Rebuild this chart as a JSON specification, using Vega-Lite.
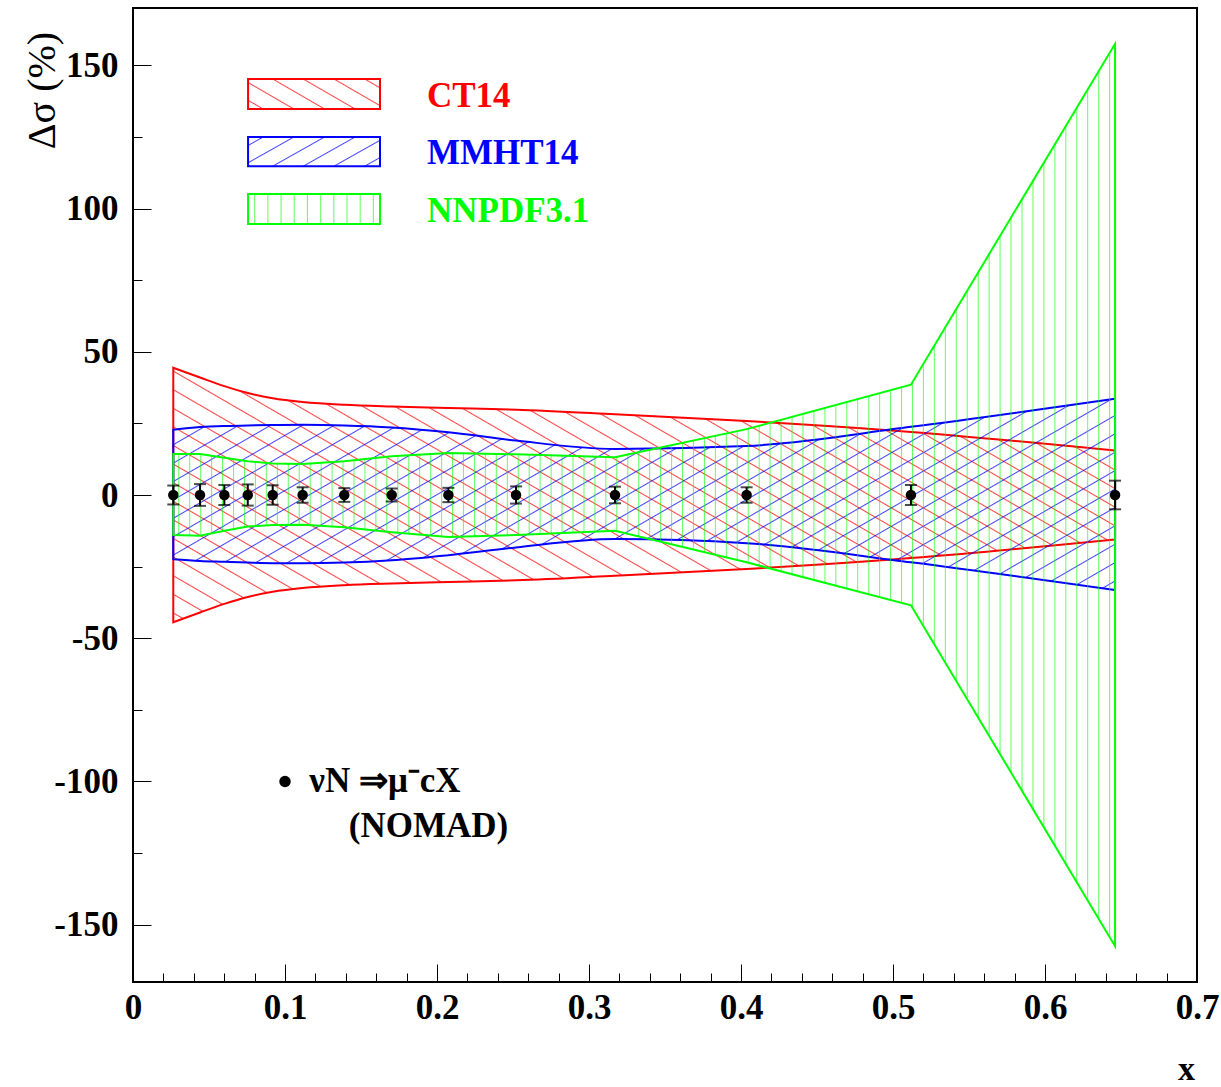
{
"$schema": "https://vega.github.io/schema/vega-lite/v6.json",
"width": 1064, "height": 974,
"autosize": {"type": "none"},
"padding": {"left": 133, "top": 8, "right": 24, "bottom": 105},
"background": "white",
"config": {"view": {"stroke": "black", "strokeWidth": 2}, "font": "Liberation Serif"},
"datasets": {
"bands": [
{"x":0.0265,"ct_hi":44.4,"ct_lo":-44.4,"mm_hi":22.8,"mm_lo":-22.4,"nn_hi":14.3,"nn_lo":-14.0},
{"x":0.0441,"ct_hi":41.0,"ct_lo":-41.0,"mm_hi":23.7,"mm_lo":-23.0,"nn_hi":14.3,"nn_lo":-14.2},
{"x":0.0601,"ct_hi":38.0,"ct_lo":-38.0,"mm_hi":24.1,"mm_lo":-23.3,"nn_hi":13.0,"nn_lo":-12.5},
{"x":0.0755,"ct_hi":35.6,"ct_lo":-35.6,"mm_hi":24.3,"mm_lo":-23.6,"nn_hi":11.8,"nn_lo":-11.0},
{"x":0.0919,"ct_hi":33.8,"ct_lo":-33.8,"mm_hi":24.4,"mm_lo":-23.8,"nn_hi":11.0,"nn_lo":-10.5},
{"x":0.1116,"ct_hi":32.5,"ct_lo":-32.5,"mm_hi":24.5,"mm_lo":-23.8,"nn_hi":10.8,"nn_lo":-10.4},
{"x":0.1390,"ct_hi":31.5,"ct_lo":-31.5,"mm_hi":24.3,"mm_lo":-23.6,"nn_hi":11.8,"nn_lo":-11.3},
{"x":0.1702,"ct_hi":30.9,"ct_lo":-30.9,"mm_hi":23.6,"mm_lo":-22.8,"nn_hi":13.5,"nn_lo":-13.0},
{"x":0.2075,"ct_hi":30.4,"ct_lo":-30.4,"mm_hi":21.9,"mm_lo":-21.0,"nn_hi":14.7,"nn_lo":-14.7},
{"x":0.2520,"ct_hi":29.8,"ct_lo":-29.8,"mm_hi":19.0,"mm_lo":-18.3,"nn_hi":14.2,"nn_lo":-14.0},
{"x":0.3171,"ct_hi":28.2,"ct_lo":-28.2,"mm_hi":16.1,"mm_lo":-15.4,"nn_hi":13.2,"nn_lo":-12.5},
{"x":0.4037,"ct_hi":25.8,"ct_lo":-25.8,"mm_hi":17.1,"mm_lo":-16.8,"nn_hi":23.0,"nn_lo":-23.5},
{"x":0.5118,"ct_hi":22.0,"ct_lo":-22.0,"mm_hi":23.8,"mm_lo":-23.5,"nn_hi":38.5,"nn_lo":-38.5},
{"x":0.6461,"ct_hi":15.5,"ct_lo":-15.5,"mm_hi":33.6,"mm_lo":-33.2,"nn_hi":157.5,"nn_lo":-157.5}
],
"nomad": [
{"x":0.0265,"v":0,"err":3.3},
{"x":0.0441,"v":0,"err":3.8},
{"x":0.0601,"v":0,"err":3.5},
{"x":0.0755,"v":0,"err":3.7},
{"x":0.0919,"v":0,"err":3.4},
{"x":0.1116,"v":0,"err":2.7},
{"x":0.1390,"v":0,"err":2.4},
{"x":0.1702,"v":0,"err":2.3},
{"x":0.2075,"v":0,"err":2.5},
{"x":0.2520,"v":0,"err":3.0},
{"x":0.3171,"v":0,"err":2.9},
{"x":0.4037,"v":0,"err":2.7},
{"x":0.5118,"v":0,"err":3.5},
{"x":0.6461,"v":0,"err":5.0}
]
},
"layer": [
{
"data": {"name": "bands"},
"mark": {"type": "area", "interpolate": "monotone", "stroke": "#ff0000", "strokeWidth": 2,
"fill": {"gradient": "linear", "x1": 0, "y1": 1, "x2": 1.2045, "y2": 0.4381, "stops": [
{"offset":0.0101,"color":"#f000"},{"offset":0.0116,"color":"#f00b"},{"offset":0.0131,"color":"#f000"},
{"offset":0.0334,"color":"#f000"},{"offset":0.0349,"color":"#f00b"},{"offset":0.0364,"color":"#f000"},
{"offset":0.0566,"color":"#f000"},{"offset":0.0581,"color":"#f00b"},{"offset":0.0596,"color":"#f000"},
{"offset":0.0799,"color":"#f000"},{"offset":0.0814,"color":"#f00b"},{"offset":0.0829,"color":"#f000"},
{"offset":0.1032,"color":"#f000"},{"offset":0.1047,"color":"#f00b"},{"offset":0.1062,"color":"#f000"},
{"offset":0.1264,"color":"#f000"},{"offset":0.1279,"color":"#f00b"},{"offset":0.1294,"color":"#f000"},
{"offset":0.1497,"color":"#f000"},{"offset":0.1512,"color":"#f00b"},{"offset":0.1527,"color":"#f000"},
{"offset":0.1729,"color":"#f000"},{"offset":0.1744,"color":"#f00b"},{"offset":0.1759,"color":"#f000"},
{"offset":0.1962,"color":"#f000"},{"offset":0.1977,"color":"#f00b"},{"offset":0.1992,"color":"#f000"},
{"offset":0.2194,"color":"#f000"},{"offset":0.2209,"color":"#f00b"},{"offset":0.2224,"color":"#f000"},
{"offset":0.2427,"color":"#f000"},{"offset":0.2442,"color":"#f00b"},{"offset":0.2457,"color":"#f000"},
{"offset":0.2659,"color":"#f000"},{"offset":0.2674,"color":"#f00b"},{"offset":0.2689,"color":"#f000"},
{"offset":0.2892,"color":"#f000"},{"offset":0.2907,"color":"#f00b"},{"offset":0.2922,"color":"#f000"},
{"offset":0.3125,"color":"#f000"},{"offset":0.3140,"color":"#f00b"},{"offset":0.3155,"color":"#f000"},
{"offset":0.3357,"color":"#f000"},{"offset":0.3372,"color":"#f00b"},{"offset":0.3387,"color":"#f000"},
{"offset":0.3590,"color":"#f000"},{"offset":0.3605,"color":"#f00b"},{"offset":0.3620,"color":"#f000"},
{"offset":0.3822,"color":"#f000"},{"offset":0.3837,"color":"#f00b"},{"offset":0.3852,"color":"#f000"},
{"offset":0.4055,"color":"#f000"},{"offset":0.4070,"color":"#f00b"},{"offset":0.4085,"color":"#f000"},
{"offset":0.4287,"color":"#f000"},{"offset":0.4302,"color":"#f00b"},{"offset":0.4317,"color":"#f000"},
{"offset":0.4520,"color":"#f000"},{"offset":0.4535,"color":"#f00b"},{"offset":0.4550,"color":"#f000"},
{"offset":0.4752,"color":"#f000"},{"offset":0.4767,"color":"#f00b"},{"offset":0.4782,"color":"#f000"},
{"offset":0.4985,"color":"#f000"},{"offset":0.5000,"color":"#f00b"},{"offset":0.5015,"color":"#f000"},
{"offset":0.5218,"color":"#f000"},{"offset":0.5233,"color":"#f00b"},{"offset":0.5248,"color":"#f000"},
{"offset":0.5450,"color":"#f000"},{"offset":0.5465,"color":"#f00b"},{"offset":0.5480,"color":"#f000"},
{"offset":0.5683,"color":"#f000"},{"offset":0.5698,"color":"#f00b"},{"offset":0.5713,"color":"#f000"},
{"offset":0.5915,"color":"#f000"},{"offset":0.5930,"color":"#f00b"},{"offset":0.5945,"color":"#f000"},
{"offset":0.6148,"color":"#f000"},{"offset":0.6163,"color":"#f00b"},{"offset":0.6178,"color":"#f000"},
{"offset":0.6380,"color":"#f000"},{"offset":0.6395,"color":"#f00b"},{"offset":0.6410,"color":"#f000"},
{"offset":0.6613,"color":"#f000"},{"offset":0.6628,"color":"#f00b"},{"offset":0.6643,"color":"#f000"},
{"offset":0.6845,"color":"#f000"},{"offset":0.6860,"color":"#f00b"},{"offset":0.6875,"color":"#f000"},
{"offset":0.7078,"color":"#f000"},{"offset":0.7093,"color":"#f00b"},{"offset":0.7108,"color":"#f000"},
{"offset":0.7311,"color":"#f000"},{"offset":0.7326,"color":"#f00b"},{"offset":0.7341,"color":"#f000"},
{"offset":0.7543,"color":"#f000"},{"offset":0.7558,"color":"#f00b"},{"offset":0.7573,"color":"#f000"},
{"offset":0.7776,"color":"#f000"},{"offset":0.7791,"color":"#f00b"},{"offset":0.7806,"color":"#f000"},
{"offset":0.8008,"color":"#f000"},{"offset":0.8023,"color":"#f00b"},{"offset":0.8038,"color":"#f000"},
{"offset":0.8241,"color":"#f000"},{"offset":0.8256,"color":"#f00b"},{"offset":0.8271,"color":"#f000"},
{"offset":0.8473,"color":"#f000"},{"offset":0.8488,"color":"#f00b"},{"offset":0.8503,"color":"#f000"},
{"offset":0.8706,"color":"#f000"},{"offset":0.8721,"color":"#f00b"},{"offset":0.8736,"color":"#f000"},
{"offset":0.8938,"color":"#f000"},{"offset":0.8953,"color":"#f00b"},{"offset":0.8968,"color":"#f000"},
{"offset":0.9171,"color":"#f000"},{"offset":0.9186,"color":"#f00b"},{"offset":0.9201,"color":"#f000"},
{"offset":0.9404,"color":"#f000"},{"offset":0.9419,"color":"#f00b"},{"offset":0.9434,"color":"#f000"},
{"offset":0.9636,"color":"#f000"},{"offset":0.9651,"color":"#f00b"},{"offset":0.9666,"color":"#f000"},
{"offset":0.9869,"color":"#f000"},{"offset":0.9884,"color":"#f00b"},{"offset":0.9899,"color":"#f000"}
]}},
"encoding": {
"x": {"field": "x", "type": "quantitative", "title": "x", "scale": {"domain": [0, 0.7], "nice": false, "zero": false},
"axis": {"values": [0,0.02,0.04,0.06,0.08,0.1,0.12,0.14,0.16,0.18,0.2,0.22,0.24,0.26,0.28,0.3,0.32,0.34,0.36,0.38,0.4,0.42,0.44,0.46,0.48,0.5,0.52,0.54,0.56,0.58,0.6,0.62,0.64,0.66,0.68,0.7],
"tickCount": 100,
"title": "x", "domain": false, "ticks": false, "tickSize": 0,
"grid": true, "gridColor": "black", "gridWidth": 1, "gridOpacity": 1,
"gridDash": {"condition": {"test": "abs(datum.value * 10 - round(datum.value * 10)) < 0.001", "value": [18, 956]}, "value": [0, 9, 9, 956]},
"gridDashOffset": 18,
"labelExpr": "abs(datum.value * 10 - round(datum.value * 10)) < 0.001 ? format(datum.value, '.1~f') : ''",
"labelPadding": 8, "labelFont": "Liberation Serif", "labelFontWeight": "bold", "labelFontSize": 35, "labelColor": "black",
"labelOverlap": false, "labelFlush": false, "labelBound": false,
"titleFont": "Liberation Serif", "titleFontWeight": "bold", "titleFontSize": 34, "titleColor": "black",
"titleX": 1053, "titleY": 104, "titleAlign": "center", "titleBaseline": "bottom"}},
"y": {"field": "ct_lo", "type": "quantitative", "title": "Δσ (%)", "scale": {"domain": [-170, 170], "nice": false, "zero": false},
"axis": {"values": [-150,-125,-100,-75,-50,-25,0,25,50,75,100,125,150],
"tickCount": 100,
"title": "Δσ (%)", "domain": false, "ticks": false, "tickSize": 0,
"grid": true, "gridColor": "black", "gridWidth": 1, "gridOpacity": 1,
"gridDash": {"condition": {"test": "datum.value % 50 == 0", "value": [18, 1046]}, "value": [9, 1055]},
"labelExpr": "datum.value % 50 == 0 ? toString(datum.value) : ''",
"labelPadding": 15, "labelFont": "Liberation Serif", "labelFontWeight": "bold", "labelFontSize": 35, "labelColor": "black",
"labelOverlap": false, "labelFlush": false, "labelBound": false,
"titleFont": "Liberation Serif", "titleFontWeight": "normal", "titleFontSize": 40, "titleColor": "black",
"titleAngle": -90, "titleX": -91, "titleY": 82, "titleAlign": "center", "titleBaseline": "middle"}},
"y2": {"field": "ct_hi"}
}
},
{
"data": {"name": "bands"},
"mark": {"type": "area", "interpolate": "monotone", "stroke": "#0000ff", "strokeWidth": 2,
"fill": {"gradient": "linear", "x1": 0, "y1": 0, "x2": 1.203, "y2": 0.4229, "stops": [
{"offset":0.0109,"color":"#00f0"},{"offset":0.0125,"color":"#00fb"},{"offset":0.0141,"color":"#00f0"},
{"offset":0.0359,"color":"#00f0"},{"offset":0.0375,"color":"#00fb"},{"offset":0.0391,"color":"#00f0"},
{"offset":0.0609,"color":"#00f0"},{"offset":0.0625,"color":"#00fb"},{"offset":0.0641,"color":"#00f0"},
{"offset":0.0859,"color":"#00f0"},{"offset":0.0875,"color":"#00fb"},{"offset":0.0891,"color":"#00f0"},
{"offset":0.1109,"color":"#00f0"},{"offset":0.1125,"color":"#00fb"},{"offset":0.1141,"color":"#00f0"},
{"offset":0.1359,"color":"#00f0"},{"offset":0.1375,"color":"#00fb"},{"offset":0.1391,"color":"#00f0"},
{"offset":0.1609,"color":"#00f0"},{"offset":0.1625,"color":"#00fb"},{"offset":0.1641,"color":"#00f0"},
{"offset":0.1859,"color":"#00f0"},{"offset":0.1875,"color":"#00fb"},{"offset":0.1891,"color":"#00f0"},
{"offset":0.2109,"color":"#00f0"},{"offset":0.2125,"color":"#00fb"},{"offset":0.2141,"color":"#00f0"},
{"offset":0.2359,"color":"#00f0"},{"offset":0.2375,"color":"#00fb"},{"offset":0.2391,"color":"#00f0"},
{"offset":0.2609,"color":"#00f0"},{"offset":0.2625,"color":"#00fb"},{"offset":0.2641,"color":"#00f0"},
{"offset":0.2859,"color":"#00f0"},{"offset":0.2875,"color":"#00fb"},{"offset":0.2891,"color":"#00f0"},
{"offset":0.3109,"color":"#00f0"},{"offset":0.3125,"color":"#00fb"},{"offset":0.3141,"color":"#00f0"},
{"offset":0.3359,"color":"#00f0"},{"offset":0.3375,"color":"#00fb"},{"offset":0.3391,"color":"#00f0"},
{"offset":0.3609,"color":"#00f0"},{"offset":0.3625,"color":"#00fb"},{"offset":0.3641,"color":"#00f0"},
{"offset":0.3859,"color":"#00f0"},{"offset":0.3875,"color":"#00fb"},{"offset":0.3891,"color":"#00f0"},
{"offset":0.4109,"color":"#00f0"},{"offset":0.4125,"color":"#00fb"},{"offset":0.4141,"color":"#00f0"},
{"offset":0.4359,"color":"#00f0"},{"offset":0.4375,"color":"#00fb"},{"offset":0.4391,"color":"#00f0"},
{"offset":0.4609,"color":"#00f0"},{"offset":0.4625,"color":"#00fb"},{"offset":0.4641,"color":"#00f0"},
{"offset":0.4859,"color":"#00f0"},{"offset":0.4875,"color":"#00fb"},{"offset":0.4891,"color":"#00f0"},
{"offset":0.5109,"color":"#00f0"},{"offset":0.5125,"color":"#00fb"},{"offset":0.5141,"color":"#00f0"},
{"offset":0.5359,"color":"#00f0"},{"offset":0.5375,"color":"#00fb"},{"offset":0.5391,"color":"#00f0"},
{"offset":0.5609,"color":"#00f0"},{"offset":0.5625,"color":"#00fb"},{"offset":0.5641,"color":"#00f0"},
{"offset":0.5859,"color":"#00f0"},{"offset":0.5875,"color":"#00fb"},{"offset":0.5891,"color":"#00f0"},
{"offset":0.6109,"color":"#00f0"},{"offset":0.6125,"color":"#00fb"},{"offset":0.6141,"color":"#00f0"},
{"offset":0.6359,"color":"#00f0"},{"offset":0.6375,"color":"#00fb"},{"offset":0.6391,"color":"#00f0"},
{"offset":0.6609,"color":"#00f0"},{"offset":0.6625,"color":"#00fb"},{"offset":0.6641,"color":"#00f0"},
{"offset":0.6859,"color":"#00f0"},{"offset":0.6875,"color":"#00fb"},{"offset":0.6891,"color":"#00f0"},
{"offset":0.7109,"color":"#00f0"},{"offset":0.7125,"color":"#00fb"},{"offset":0.7141,"color":"#00f0"},
{"offset":0.7359,"color":"#00f0"},{"offset":0.7375,"color":"#00fb"},{"offset":0.7391,"color":"#00f0"},
{"offset":0.7609,"color":"#00f0"},{"offset":0.7625,"color":"#00fb"},{"offset":0.7641,"color":"#00f0"},
{"offset":0.7859,"color":"#00f0"},{"offset":0.7875,"color":"#00fb"},{"offset":0.7891,"color":"#00f0"},
{"offset":0.8109,"color":"#00f0"},{"offset":0.8125,"color":"#00fb"},{"offset":0.8141,"color":"#00f0"},
{"offset":0.8359,"color":"#00f0"},{"offset":0.8375,"color":"#00fb"},{"offset":0.8391,"color":"#00f0"},
{"offset":0.8609,"color":"#00f0"},{"offset":0.8625,"color":"#00fb"},{"offset":0.8641,"color":"#00f0"},
{"offset":0.8859,"color":"#00f0"},{"offset":0.8875,"color":"#00fb"},{"offset":0.8891,"color":"#00f0"},
{"offset":0.9109,"color":"#00f0"},{"offset":0.9125,"color":"#00fb"},{"offset":0.9141,"color":"#00f0"},
{"offset":0.9359,"color":"#00f0"},{"offset":0.9375,"color":"#00fb"},{"offset":0.9391,"color":"#00f0"},
{"offset":0.9609,"color":"#00f0"},{"offset":0.9625,"color":"#00fb"},{"offset":0.9641,"color":"#00f0"},
{"offset":0.9859,"color":"#00f0"},{"offset":0.9875,"color":"#00fb"},{"offset":0.9891,"color":"#00f0"}
]}},
"encoding": {
"x": {"field": "x", "type": "quantitative", "title": "x", "scale": {"domain": [0, 0.7], "nice": false, "zero": false}},
"y": {"field": "mm_lo", "type": "quantitative", "title": "Δσ (%)", "scale": {"domain": [-170, 170], "nice": false, "zero": false}},
"y2": {"field": "mm_hi"}
}
},
{
"data": {"name": "bands"},
"mark": {"type": "area", "interpolate": "linear", "stroke": "#00ff00", "strokeWidth": 2,
"fill": {"gradient": "linear", "x1": 0, "y1": 0, "x2": 1, "y2": 0, "stops": [
{"offset":0.0047,"color":"#0f00"},{"offset":0.0058,"color":"#0f09"},{"offset":0.0069,"color":"#0f00"},
{"offset":0.0163,"color":"#0f00"},{"offset":0.0174,"color":"#0f09"},{"offset":0.0185,"color":"#0f00"},
{"offset":0.0280,"color":"#0f00"},{"offset":0.0291,"color":"#0f09"},{"offset":0.0302,"color":"#0f00"},
{"offset":0.0396,"color":"#0f00"},{"offset":0.0407,"color":"#0f09"},{"offset":0.0418,"color":"#0f00"},
{"offset":0.0512,"color":"#0f00"},{"offset":0.0523,"color":"#0f09"},{"offset":0.0534,"color":"#0f00"},
{"offset":0.0629,"color":"#0f00"},{"offset":0.0640,"color":"#0f09"},{"offset":0.0651,"color":"#0f00"},
{"offset":0.0745,"color":"#0f00"},{"offset":0.0756,"color":"#0f09"},{"offset":0.0767,"color":"#0f00"},
{"offset":0.0861,"color":"#0f00"},{"offset":0.0872,"color":"#0f09"},{"offset":0.0883,"color":"#0f00"},
{"offset":0.0977,"color":"#0f00"},{"offset":0.0988,"color":"#0f09"},{"offset":0.0999,"color":"#0f00"},
{"offset":0.1094,"color":"#0f00"},{"offset":0.1105,"color":"#0f09"},{"offset":0.1116,"color":"#0f00"},
{"offset":0.1210,"color":"#0f00"},{"offset":0.1221,"color":"#0f09"},{"offset":0.1232,"color":"#0f00"},
{"offset":0.1326,"color":"#0f00"},{"offset":0.1337,"color":"#0f09"},{"offset":0.1348,"color":"#0f00"},
{"offset":0.1443,"color":"#0f00"},{"offset":0.1454,"color":"#0f09"},{"offset":0.1465,"color":"#0f00"},
{"offset":0.1559,"color":"#0f00"},{"offset":0.1570,"color":"#0f09"},{"offset":0.1581,"color":"#0f00"},
{"offset":0.1675,"color":"#0f00"},{"offset":0.1686,"color":"#0f09"},{"offset":0.1697,"color":"#0f00"},
{"offset":0.1791,"color":"#0f00"},{"offset":0.1802,"color":"#0f09"},{"offset":0.1813,"color":"#0f00"},
{"offset":0.1908,"color":"#0f00"},{"offset":0.1919,"color":"#0f09"},{"offset":0.1930,"color":"#0f00"},
{"offset":0.2024,"color":"#0f00"},{"offset":0.2035,"color":"#0f09"},{"offset":0.2046,"color":"#0f00"},
{"offset":0.2140,"color":"#0f00"},{"offset":0.2151,"color":"#0f09"},{"offset":0.2162,"color":"#0f00"},
{"offset":0.2256,"color":"#0f00"},{"offset":0.2267,"color":"#0f09"},{"offset":0.2278,"color":"#0f00"},
{"offset":0.2373,"color":"#0f00"},{"offset":0.2384,"color":"#0f09"},{"offset":0.2395,"color":"#0f00"},
{"offset":0.2489,"color":"#0f00"},{"offset":0.2500,"color":"#0f09"},{"offset":0.2511,"color":"#0f00"},
{"offset":0.2605,"color":"#0f00"},{"offset":0.2616,"color":"#0f09"},{"offset":0.2627,"color":"#0f00"},
{"offset":0.2722,"color":"#0f00"},{"offset":0.2733,"color":"#0f09"},{"offset":0.2744,"color":"#0f00"},
{"offset":0.2838,"color":"#0f00"},{"offset":0.2849,"color":"#0f09"},{"offset":0.2860,"color":"#0f00"},
{"offset":0.2954,"color":"#0f00"},{"offset":0.2965,"color":"#0f09"},{"offset":0.2976,"color":"#0f00"},
{"offset":0.3070,"color":"#0f00"},{"offset":0.3081,"color":"#0f09"},{"offset":0.3092,"color":"#0f00"},
{"offset":0.3187,"color":"#0f00"},{"offset":0.3198,"color":"#0f09"},{"offset":0.3209,"color":"#0f00"},
{"offset":0.3303,"color":"#0f00"},{"offset":0.3314,"color":"#0f09"},{"offset":0.3325,"color":"#0f00"},
{"offset":0.3419,"color":"#0f00"},{"offset":0.3430,"color":"#0f09"},{"offset":0.3441,"color":"#0f00"},
{"offset":0.3536,"color":"#0f00"},{"offset":0.3547,"color":"#0f09"},{"offset":0.3558,"color":"#0f00"},
{"offset":0.3652,"color":"#0f00"},{"offset":0.3663,"color":"#0f09"},{"offset":0.3674,"color":"#0f00"},
{"offset":0.3768,"color":"#0f00"},{"offset":0.3779,"color":"#0f09"},{"offset":0.3790,"color":"#0f00"},
{"offset":0.3884,"color":"#0f00"},{"offset":0.3895,"color":"#0f09"},{"offset":0.3906,"color":"#0f00"},
{"offset":0.4001,"color":"#0f00"},{"offset":0.4012,"color":"#0f09"},{"offset":0.4023,"color":"#0f00"},
{"offset":0.4117,"color":"#0f00"},{"offset":0.4128,"color":"#0f09"},{"offset":0.4139,"color":"#0f00"},
{"offset":0.4233,"color":"#0f00"},{"offset":0.4244,"color":"#0f09"},{"offset":0.4255,"color":"#0f00"},
{"offset":0.4350,"color":"#0f00"},{"offset":0.4361,"color":"#0f09"},{"offset":0.4372,"color":"#0f00"},
{"offset":0.4466,"color":"#0f00"},{"offset":0.4477,"color":"#0f09"},{"offset":0.4488,"color":"#0f00"},
{"offset":0.4582,"color":"#0f00"},{"offset":0.4593,"color":"#0f09"},{"offset":0.4604,"color":"#0f00"},
{"offset":0.4698,"color":"#0f00"},{"offset":0.4709,"color":"#0f09"},{"offset":0.4720,"color":"#0f00"},
{"offset":0.4815,"color":"#0f00"},{"offset":0.4826,"color":"#0f09"},{"offset":0.4837,"color":"#0f00"},
{"offset":0.4931,"color":"#0f00"},{"offset":0.4942,"color":"#0f09"},{"offset":0.4953,"color":"#0f00"},
{"offset":0.5047,"color":"#0f00"},{"offset":0.5058,"color":"#0f09"},{"offset":0.5069,"color":"#0f00"},
{"offset":0.5163,"color":"#0f00"},{"offset":0.5174,"color":"#0f09"},{"offset":0.5185,"color":"#0f00"},
{"offset":0.5280,"color":"#0f00"},{"offset":0.5291,"color":"#0f09"},{"offset":0.5302,"color":"#0f00"},
{"offset":0.5396,"color":"#0f00"},{"offset":0.5407,"color":"#0f09"},{"offset":0.5418,"color":"#0f00"},
{"offset":0.5512,"color":"#0f00"},{"offset":0.5523,"color":"#0f09"},{"offset":0.5534,"color":"#0f00"},
{"offset":0.5629,"color":"#0f00"},{"offset":0.5640,"color":"#0f09"},{"offset":0.5651,"color":"#0f00"},
{"offset":0.5745,"color":"#0f00"},{"offset":0.5756,"color":"#0f09"},{"offset":0.5767,"color":"#0f00"},
{"offset":0.5861,"color":"#0f00"},{"offset":0.5872,"color":"#0f09"},{"offset":0.5883,"color":"#0f00"},
{"offset":0.5977,"color":"#0f00"},{"offset":0.5988,"color":"#0f09"},{"offset":0.5999,"color":"#0f00"},
{"offset":0.6094,"color":"#0f00"},{"offset":0.6105,"color":"#0f09"},{"offset":0.6116,"color":"#0f00"},
{"offset":0.6210,"color":"#0f00"},{"offset":0.6221,"color":"#0f09"},{"offset":0.6232,"color":"#0f00"},
{"offset":0.6326,"color":"#0f00"},{"offset":0.6337,"color":"#0f09"},{"offset":0.6348,"color":"#0f00"},
{"offset":0.6443,"color":"#0f00"},{"offset":0.6454,"color":"#0f09"},{"offset":0.6465,"color":"#0f00"},
{"offset":0.6559,"color":"#0f00"},{"offset":0.6570,"color":"#0f09"},{"offset":0.6581,"color":"#0f00"},
{"offset":0.6675,"color":"#0f00"},{"offset":0.6686,"color":"#0f09"},{"offset":0.6697,"color":"#0f00"},
{"offset":0.6791,"color":"#0f00"},{"offset":0.6802,"color":"#0f09"},{"offset":0.6813,"color":"#0f00"},
{"offset":0.6908,"color":"#0f00"},{"offset":0.6919,"color":"#0f09"},{"offset":0.6930,"color":"#0f00"},
{"offset":0.7024,"color":"#0f00"},{"offset":0.7035,"color":"#0f09"},{"offset":0.7046,"color":"#0f00"},
{"offset":0.7140,"color":"#0f00"},{"offset":0.7151,"color":"#0f09"},{"offset":0.7162,"color":"#0f00"},
{"offset":0.7256,"color":"#0f00"},{"offset":0.7267,"color":"#0f09"},{"offset":0.7278,"color":"#0f00"},
{"offset":0.7373,"color":"#0f00"},{"offset":0.7384,"color":"#0f09"},{"offset":0.7395,"color":"#0f00"},
{"offset":0.7489,"color":"#0f00"},{"offset":0.7500,"color":"#0f09"},{"offset":0.7511,"color":"#0f00"},
{"offset":0.7605,"color":"#0f00"},{"offset":0.7616,"color":"#0f09"},{"offset":0.7627,"color":"#0f00"},
{"offset":0.7722,"color":"#0f00"},{"offset":0.7733,"color":"#0f09"},{"offset":0.7744,"color":"#0f00"},
{"offset":0.7838,"color":"#0f00"},{"offset":0.7849,"color":"#0f09"},{"offset":0.7860,"color":"#0f00"},
{"offset":0.7954,"color":"#0f00"},{"offset":0.7965,"color":"#0f09"},{"offset":0.7976,"color":"#0f00"},
{"offset":0.8070,"color":"#0f00"},{"offset":0.8081,"color":"#0f09"},{"offset":0.8092,"color":"#0f00"},
{"offset":0.8187,"color":"#0f00"},{"offset":0.8198,"color":"#0f09"},{"offset":0.8209,"color":"#0f00"},
{"offset":0.8303,"color":"#0f00"},{"offset":0.8314,"color":"#0f09"},{"offset":0.8325,"color":"#0f00"},
{"offset":0.8419,"color":"#0f00"},{"offset":0.8430,"color":"#0f09"},{"offset":0.8441,"color":"#0f00"},
{"offset":0.8536,"color":"#0f00"},{"offset":0.8547,"color":"#0f09"},{"offset":0.8558,"color":"#0f00"},
{"offset":0.8652,"color":"#0f00"},{"offset":0.8663,"color":"#0f09"},{"offset":0.8674,"color":"#0f00"},
{"offset":0.8768,"color":"#0f00"},{"offset":0.8779,"color":"#0f09"},{"offset":0.8790,"color":"#0f00"},
{"offset":0.8884,"color":"#0f00"},{"offset":0.8895,"color":"#0f09"},{"offset":0.8906,"color":"#0f00"},
{"offset":0.9001,"color":"#0f00"},{"offset":0.9012,"color":"#0f09"},{"offset":0.9023,"color":"#0f00"},
{"offset":0.9117,"color":"#0f00"},{"offset":0.9128,"color":"#0f09"},{"offset":0.9139,"color":"#0f00"},
{"offset":0.9233,"color":"#0f00"},{"offset":0.9244,"color":"#0f09"},{"offset":0.9255,"color":"#0f00"},
{"offset":0.9350,"color":"#0f00"},{"offset":0.9361,"color":"#0f09"},{"offset":0.9372,"color":"#0f00"},
{"offset":0.9466,"color":"#0f00"},{"offset":0.9477,"color":"#0f09"},{"offset":0.9488,"color":"#0f00"},
{"offset":0.9582,"color":"#0f00"},{"offset":0.9593,"color":"#0f09"},{"offset":0.9604,"color":"#0f00"},
{"offset":0.9698,"color":"#0f00"},{"offset":0.9709,"color":"#0f09"},{"offset":0.9720,"color":"#0f00"},
{"offset":0.9815,"color":"#0f00"},{"offset":0.9826,"color":"#0f09"},{"offset":0.9837,"color":"#0f00"},
{"offset":0.9931,"color":"#0f00"},{"offset":0.9942,"color":"#0f09"},{"offset":0.9953,"color":"#0f00"}
]}},
"encoding": {
"x": {"field": "x", "type": "quantitative", "title": "x", "scale": {"domain": [0, 0.7], "nice": false, "zero": false}},
"y": {"field": "nn_lo", "type": "quantitative", "title": "Δσ (%)", "scale": {"domain": [-170, 170], "nice": false, "zero": false}},
"y2": {"field": "nn_hi"}
}
},
{
"data": {"name": "nomad"},
"mark": {"type": "errorbar", "color": "black", "thickness": 2, "ticks": {"size": 12, "thickness": 2, "color": "black"}},
"encoding": {
"x": {"field": "x", "type": "quantitative", "title": "x", "scale": {"domain": [0, 0.7], "nice": false, "zero": false}},
"y": {"field": "v", "type": "quantitative", "title": "Δσ (%)", "scale": {"domain": [-170, 170], "nice": false, "zero": false}},
"yError": {"field": "err"}
}
},
{
"data": {"name": "nomad"},
"mark": {"type": "point", "filled": true, "size": 110, "color": "black", "opacity": 1},
"encoding": {
"x": {"field": "x", "type": "quantitative", "title": "x", "scale": {"domain": [0, 0.7], "nice": false, "zero": false}},
"y": {"field": "v", "type": "quantitative", "title": "Δσ (%)", "scale": {"domain": [-170, 170], "nice": false, "zero": false}}
}
},
{
"data": {"values": [{"t": "CT14"}]},
"mark": {"type": "rect", "stroke": "#ff0000", "strokeWidth": 2,
"fill": {"gradient": "linear", "x1": 0, "y1": 1, "x2": 1.2069, "y2": 0.5249, "stops": [
{"offset":0.072,"color":"#f000"},{"offset":0.083,"color":"#f00b"},{"offset":0.094,"color":"#f000"},
{"offset":0.239,"color":"#f000"},{"offset":0.250,"color":"#f00b"},{"offset":0.261,"color":"#f000"},
{"offset":0.406,"color":"#f000"},{"offset":0.417,"color":"#f00b"},{"offset":0.428,"color":"#f000"},
{"offset":0.572,"color":"#f000"},{"offset":0.583,"color":"#f00b"},{"offset":0.594,"color":"#f000"},
{"offset":0.739,"color":"#f000"},{"offset":0.750,"color":"#f00b"},{"offset":0.761,"color":"#f000"},
{"offset":0.906,"color":"#f000"},{"offset":0.917,"color":"#f00b"},{"offset":0.928,"color":"#f000"}
]}},
"encoding": {
"x": {"datum": 0.0757, "type": "quantitative", "title": "x", "scale": {"domain": [0, 0.7], "nice": false, "zero": false}},
"x2": {"datum": 0.1625},
"y": {"datum": 145.2, "type": "quantitative", "title": "Δσ (%)", "scale": {"domain": [-170, 170], "nice": false, "zero": false}},
"y2": {"datum": 134.7}
}
},
{
"data": {"values": [{"t": "MMHT14"}]},
"mark": {"type": "rect", "stroke": "#0000ff", "strokeWidth": 2,
"fill": {"gradient": "linear", "x1": 0, "y1": 0, "x2": 1.2069, "y2": 0.4751, "stops": [
{"offset":0.072,"color":"#00f0"},{"offset":0.083,"color":"#00fb"},{"offset":0.094,"color":"#00f0"},
{"offset":0.239,"color":"#00f0"},{"offset":0.250,"color":"#00fb"},{"offset":0.261,"color":"#00f0"},
{"offset":0.406,"color":"#00f0"},{"offset":0.417,"color":"#00fb"},{"offset":0.428,"color":"#00f0"},
{"offset":0.572,"color":"#00f0"},{"offset":0.583,"color":"#00fb"},{"offset":0.594,"color":"#00f0"},
{"offset":0.739,"color":"#00f0"},{"offset":0.750,"color":"#00fb"},{"offset":0.761,"color":"#00f0"},
{"offset":0.906,"color":"#00f0"},{"offset":0.917,"color":"#00fb"},{"offset":0.928,"color":"#00f0"}
]}},
"encoding": {
"x": {"datum": 0.0757, "type": "quantitative", "title": "x", "scale": {"domain": [0, 0.7], "nice": false, "zero": false}},
"x2": {"datum": 0.1625},
"y": {"datum": 125.0, "type": "quantitative", "title": "Δσ (%)", "scale": {"domain": [-170, 170], "nice": false, "zero": false}},
"y2": {"datum": 114.8}
}
},
{
"data": {"values": [{"t": "NNPDF3.1"}]},
"mark": {"type": "rect", "stroke": "#00ff00", "strokeWidth": 2,
"fill": {"gradient": "linear", "x1": 0, "y1": 0, "x2": 1, "y2": 0, "stops": [
{"offset":0.042,"color":"#0f00"},{"offset":0.050,"color":"#0f09"},{"offset":0.058,"color":"#0f00"},
{"offset":0.142,"color":"#0f00"},{"offset":0.150,"color":"#0f09"},{"offset":0.158,"color":"#0f00"},
{"offset":0.242,"color":"#0f00"},{"offset":0.250,"color":"#0f09"},{"offset":0.258,"color":"#0f00"},
{"offset":0.342,"color":"#0f00"},{"offset":0.350,"color":"#0f09"},{"offset":0.358,"color":"#0f00"},
{"offset":0.442,"color":"#0f00"},{"offset":0.450,"color":"#0f09"},{"offset":0.458,"color":"#0f00"},
{"offset":0.542,"color":"#0f00"},{"offset":0.550,"color":"#0f09"},{"offset":0.558,"color":"#0f00"},
{"offset":0.642,"color":"#0f00"},{"offset":0.650,"color":"#0f09"},{"offset":0.658,"color":"#0f00"},
{"offset":0.742,"color":"#0f00"},{"offset":0.750,"color":"#0f09"},{"offset":0.758,"color":"#0f00"},
{"offset":0.842,"color":"#0f00"},{"offset":0.850,"color":"#0f09"},{"offset":0.858,"color":"#0f00"},
{"offset":0.942,"color":"#0f00"},{"offset":0.950,"color":"#0f09"},{"offset":0.958,"color":"#0f00"}
]}},
"encoding": {
"x": {"datum": 0.0757, "type": "quantitative", "title": "x", "scale": {"domain": [0, 0.7], "nice": false, "zero": false}},
"x2": {"datum": 0.1625},
"y": {"datum": 105.1, "type": "quantitative", "title": "Δσ (%)", "scale": {"domain": [-170, 170], "nice": false, "zero": false}},
"y2": {"datum": 94.6}
}
},
{
"data": {"values": [{"t": "CT14"}]},
"mark": {"type": "text", "align": "left", "baseline": "middle", "font": "Liberation Serif", "fontWeight": "bold", "fontSize": 35, "color": "#ff0000"},
"encoding": {
"x": {"datum": 0.1934, "type": "quantitative", "title": "x", "scale": {"domain": [0, 0.7], "nice": false, "zero": false}},
"y": {"datum": 139.3, "type": "quantitative", "title": "Δσ (%)", "scale": {"domain": [-170, 170], "nice": false, "zero": false}},
"text": {"field": "t"}
}
},
{
"data": {"values": [{"t": "MMHT14"}]},
"mark": {"type": "text", "align": "left", "baseline": "middle", "font": "Liberation Serif", "fontWeight": "bold", "fontSize": 35, "color": "#0000ff"},
"encoding": {
"x": {"datum": 0.1934, "type": "quantitative", "title": "x", "scale": {"domain": [0, 0.7], "nice": false, "zero": false}},
"y": {"datum": 119.3, "type": "quantitative", "title": "Δσ (%)", "scale": {"domain": [-170, 170], "nice": false, "zero": false}},
"text": {"field": "t"}
}
},
{
"data": {"values": [{"t": "NNPDF3.1"}]},
"mark": {"type": "text", "align": "left", "baseline": "middle", "font": "Liberation Serif", "fontWeight": "bold", "fontSize": 35, "color": "#00ff00"},
"encoding": {
"x": {"datum": 0.1934, "type": "quantitative", "title": "x", "scale": {"domain": [0, 0.7], "nice": false, "zero": false}},
"y": {"datum": 99.3, "type": "quantitative", "title": "Δσ (%)", "scale": {"domain": [-170, 170], "nice": false, "zero": false}},
"text": {"field": "t"}
}
},
{
"data": {"values": [{"t": "NOMAD"}]},
"mark": {"type": "point", "filled": true, "size": 130, "color": "black", "opacity": 1},
"encoding": {
"x": {"datum": 0.1, "type": "quantitative", "title": "x", "scale": {"domain": [0, 0.7], "nice": false, "zero": false}},
"y": {"datum": -100, "type": "quantitative", "title": "Δσ (%)", "scale": {"domain": [-170, 170], "nice": false, "zero": false}}
}
},
{
"data": {"values": [{"t": "νN ⇒μ⁻cX"}]},
"mark": {"type": "text", "align": "left", "baseline": "middle", "font": "Liberation Serif", "fontWeight": "bold", "fontSize": 35, "color": "black"},
"encoding": {
"x": {"datum": 0.1160, "type": "quantitative", "title": "x", "scale": {"domain": [0, 0.7], "nice": false, "zero": false}},
"y": {"datum": -100, "type": "quantitative", "title": "Δσ (%)", "scale": {"domain": [-170, 170], "nice": false, "zero": false}},
"text": {"field": "t"}
}
},
{
"data": {"values": [{"t": "(NOMAD)"}]},
"mark": {"type": "text", "align": "left", "baseline": "middle", "font": "Liberation Serif", "fontWeight": "bold", "fontSize": 35, "color": "black"},
"encoding": {
"x": {"datum": 0.1420, "type": "quantitative", "title": "x", "scale": {"domain": [0, 0.7], "nice": false, "zero": false}},
"y": {"datum": -115.5, "type": "quantitative", "title": "Δσ (%)", "scale": {"domain": [-170, 170], "nice": false, "zero": false}},
"text": {"field": "t"}
}
}
]
}
